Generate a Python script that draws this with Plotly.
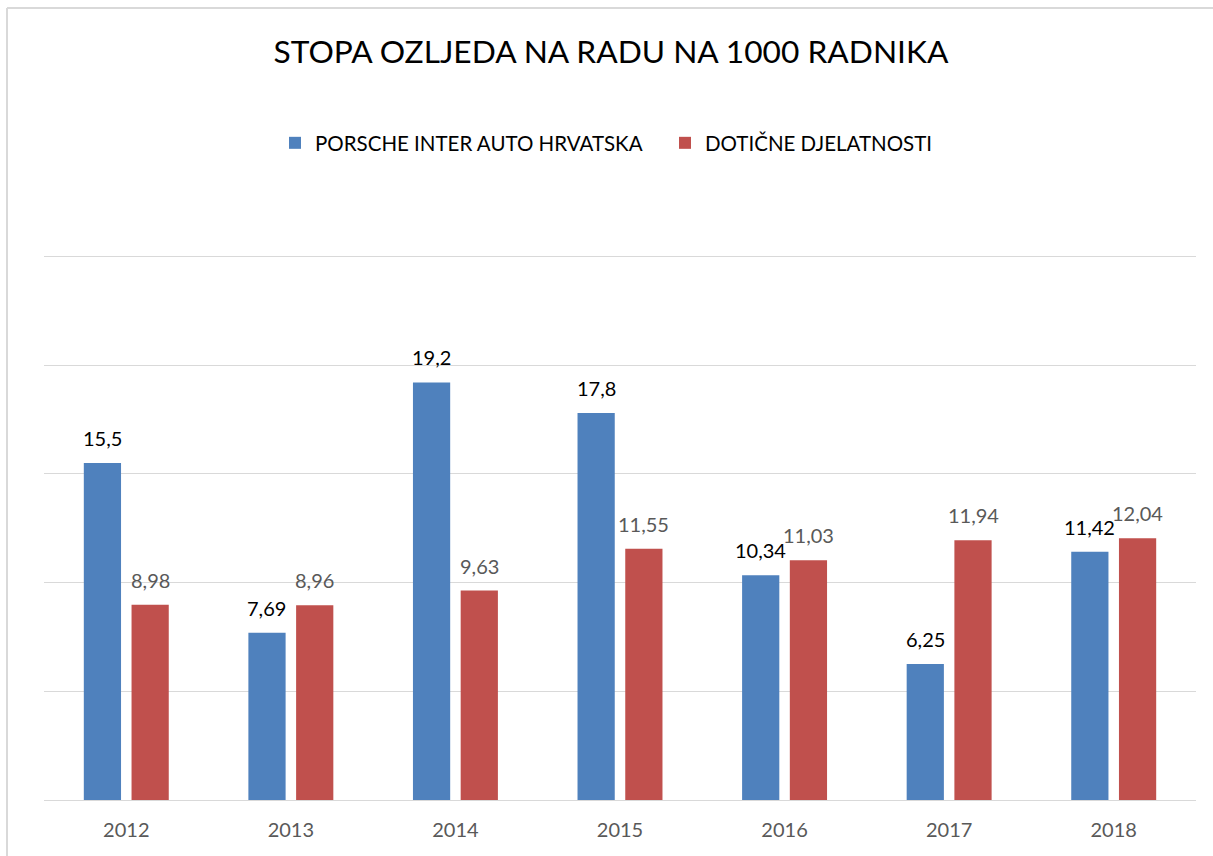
import plotly.graph_objects as go

years = ["2012", "2013", "2014", "2015", "2016", "2017", "2018"]
porsche = [15.5, 7.69, 19.2, 17.8, 10.34, 6.25, 11.42]
djelatnosti = [8.98, 8.96, 9.63, 11.55, 11.03, 11.94, 12.04]
series_names = ["PORSCHE INTER AUTO HRVATSKA", "DOTIČNE DJELATNOSTI"]
title_text = "STOPA OZLJEDA NA RADU NA 1000 RADNIKA"

FONT = "Lato"
W, H = 1213, 856
ML, MR, MT, MB = 44, 17, 252, 56
BLUE, RED = "#4F81BD", "#C0504D"


def fmt(v):
    return ("%g" % v).replace(".", ",")


fig = go.Figure()
fig.add_trace(go.Bar(
    x=years, y=porsche, name=series_names[0],
    marker=dict(color=BLUE, line=dict(width=0)),
))
fig.add_trace(go.Bar(
    x=years, y=djelatnosti, name=series_names[1],
    marker=dict(color=RED, line=dict(width=0)),
))

# value labels above bars (x = category index on the category axis)
pw = W - ML - MR
ph = H - MT - MB
cat_w = pw / len(years)
bargap, bargroupgap = 0.42, 0.22
slot = cat_w * (1 - bargap) / 2
off = slot / 2
for vals, sign, col in ((porsche, -1, "#000000"), (djelatnosti, 1, "#595959")):
    for i, v in enumerate(vals):
        fig.add_annotation(x=i, y=v, xref="x", yref="y", text=fmt(v), showarrow=False,
                           xshift=sign * off, yshift=11, yanchor="bottom", xanchor="center",
                           font=dict(family=FONT, size=20, color=col))

# chart frame (left and top edges), light gray
fx = (7 - ML) / pw
fy = (H - MB - 8) / ph
fig.add_shape(type="line", xref="paper", yref="paper", x0=fx, x1=fx, y0=fy, y1=-MB / ph - 0.01,
              line=dict(color="#D9D9D9", width=2))
fig.add_shape(type="line", xref="paper", yref="paper", x0=fx, x1=(W - ML + 5) / pw, y0=fy, y1=fy,
              line=dict(color="#D9D9D9", width=2))

fig.update_layout(
    width=W, height=H,
    margin=dict(l=ML, r=MR, t=MT, b=MB),
    paper_bgcolor="white", plot_bgcolor="white",
    barmode="group", bargap=bargap, bargroupgap=bargroupgap,
    title=dict(text=title_text, x=611 / W, xref="container", xanchor="center",
               y=1 - 52 / H, yref="container", yanchor="middle",
               font=dict(family=FONT, size=31.7, color="#000000")),
    legend=dict(orientation="h", x=275 / W, xref="container", xanchor="left",
                y=1 - 143 / H, yref="container", yanchor="middle",
                font=dict(family=FONT, size=20.5, color="#000000"),
                entrywidth=345, entrywidthmode="pixels", bgcolor="rgba(0,0,0,0)"),
    xaxis=dict(type="category", range=[-0.5, len(years) - 0.5],
               showgrid=False, showline=True, linecolor="#D9D9D9", linewidth=1,
               ticks="", ticklabelstandoff=12,
               tickfont=dict(family=FONT, size=20, color="#595959")),
    yaxis=dict(range=[0, 25.2], dtick=5, showgrid=True, gridcolor="#D9D9D9", gridwidth=1,
               showticklabels=False, zeroline=False, showline=False, ticks=""),
    showlegend=True,
)

fig.write_html("out.html", config={"displayModeBar": False},
               post_script="document.body.style.margin='0';")
